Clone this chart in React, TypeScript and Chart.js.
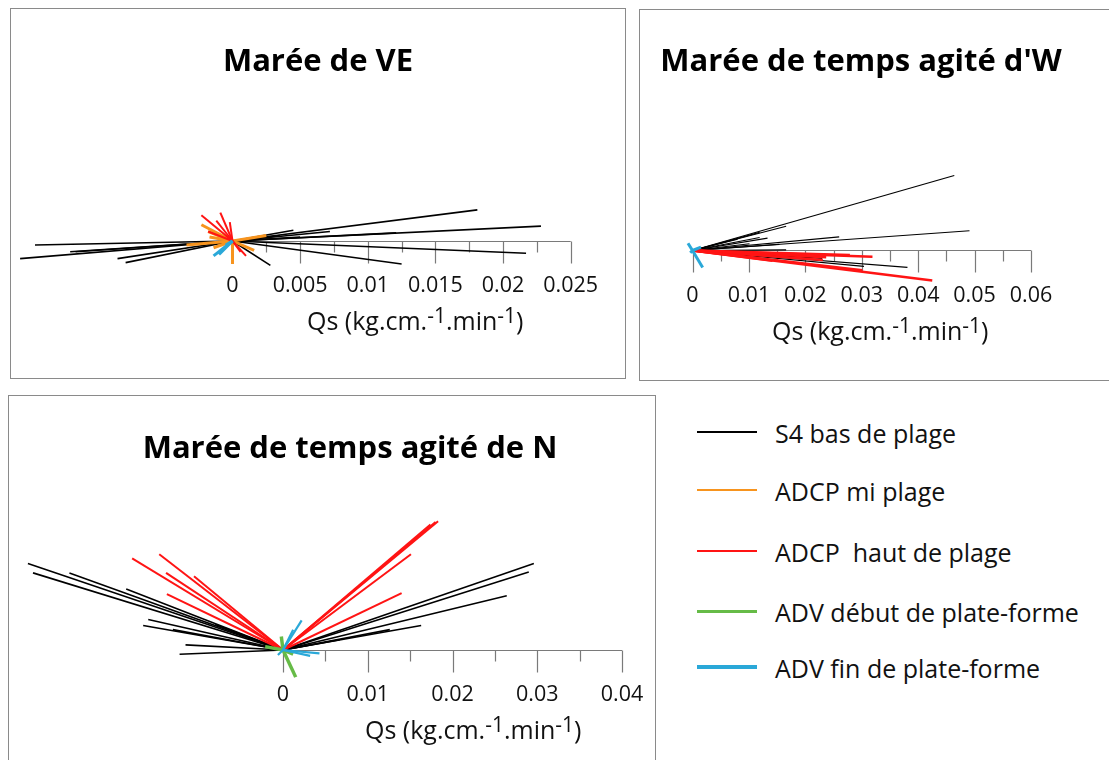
import React, { useEffect, useRef } from "react";
import { Chart, registerables } from "chart.js";
Chart.register(...registerables);

// ---------------- Data ----------------
const SERIES_NAMES = [
  "S4 bas de plage",
  "ADCP mi plage",
  "ADCP  haut de plage",
  "ADV début de plate-forme",
  "ADV fin de plate-forme",
];
const SERIES_COLORS = ["#000000", "#F7941E", "#FF1414", "#66BB47", "#2AA8D8"];

const TITLES = ["Marée de VE", "Marée de temps agité d'W", "Marée de temps agité de N"];

// Axis ticks
const veTicks = [0, 0.005, 0.01, 0.015, 0.02, 0.025];
const veTickLabels = ["0", "0.005", "0.01", "0.015", "0.02", "0.025"];
const veMinor = [0.0025, 0.0075, 0.0125, 0.0175, 0.0225];

const wTicks = [0, 0.01, 0.02, 0.03, 0.04, 0.05, 0.06];
const wTickLabels = ["0", "0.01", "0.02", "0.03", "0.04", "0.05", "0.06"];
const wMinor = [0.005, 0.015, 0.025, 0.035, 0.045, 0.055];

const nTicks = [0, 0.01, 0.02, 0.03, 0.04];
const nTickLabels = ["0", "0.01", "0.02", "0.03", "0.04"];
const nMinor = [0.005, 0.015, 0.025, 0.035];

// Vectors (Qs components, kg.cm-1.min-1) — Marée de VE
const veS4Dx = [0.0181, 0.0228, 0.0121, 0.0217, 0.0125, 0.0028, -0.0157, -0.0146, -0.012, -0.0116, -0.0085, -0.0079, 0.005, 0.0072, 0.0035, 0.0045];
const veS4Dy = [0.0023, 0.0011, 0.0006, -0.0009, -0.0017, -0.0018, -0.0013, -0.0003, -0.0008, -0.0008, -0.0013, -0.0016, 0.0003, 0.0007, 0.0004, 0.0008];
const veMiDx = [-0.0034, -0.0023, -0.0017, -0.0014, 0.0025, 0.0016, 0.0, -0.0018];
const veMiDy = [-0.0003, 0.0012, 0.0003, -0.0005, 0.0004, -0.0007, -0.0017, 0.0007];
const veHautDx = [-0.0023, -0.0009, -0.0002, -0.0018, 0.001, 0.0006, -0.0012];
const veHautDy = [0.0019, 0.0021, 0.0014, 0.0007, -0.0011, -0.0008, 0.0015];
const veDebutDx: number[] = [];
const veDebutDy: number[] = [];
const veFinDx = [-0.0014, -0.001, -0.0005];
const veFinDy = [-0.0011, -0.001, -0.0003];

// Marée de temps agité d'W
const wS4Dx = [0.0464, 0.0491, 0.026, 0.0166, 0.0133, 0.0119, 0.0166, 0.0381, 0.023, 0.0304, 0.0101, 0.0154, 0.0119, 0.008];
const wS4Dy = [0.0133, 0.0035, 0.0024, 0.0043, 0.0022, 0.0023, 0.0001, -0.003, -0.0014, -0.0028, 0.0012, 0.0011, 0.0032, 0.002];
const wMiDx: number[] = [];
const wMiDy: number[] = [];
const wHautDx = [0.0425, 0.0319, 0.0301, 0.0237, 0.0119, 0.0279, 0.0142, 0.0231];
const wHautDy = [-0.0053, -0.0011, -0.0035, -0.0012, -0.0006, -0.0008, -0.0018, -0.0017];
const wDebutDx: number[] = [];
const wDebutDy: number[] = [];
const wFinDx = [0.0018, -0.0008, 0.0015, -0.0004];
const wFinDy = [-0.003, 0.0013, 0.0006, -0.0004];

// Marée de temps agité de N
const nS4Dx = [-0.0301, -0.0295, -0.0252, -0.0185, -0.0159, -0.0165, -0.013, -0.0115, -0.0122, 0.0296, 0.029, 0.0264, 0.0163, 0.0126, 0.0067, -0.008];
const nS4Dy = [0.0102, 0.0091, 0.0091, 0.0072, 0.0036, 0.0029, 0.0024, 0.0006, -0.0005, 0.0102, 0.0092, 0.0064, 0.0029, 0.0024, 0.0012, 0.003];
const nMiDx: number[] = [];
const nMiDy: number[] = [];
const nHautDx = [-0.0178, -0.0146, -0.0138, -0.0105, -0.0137, 0.0183, 0.018, 0.0151, 0.014, 0.0174];
const nHautDy = [0.0108, 0.0113, 0.0091, 0.0087, 0.0066, 0.0152, 0.0151, 0.0113, 0.0067, 0.0148];
const nDebutDx = [0.0015, -0.0021, -0.0002, 0.0012];
const nDebutDy = [-0.0032, 0.0004, 0.0016, -0.0005];
const nFinDx = [0.0022, 0.0043, 0.0012, 0.0032, -0.0006];
const nFinDy = [0.0035, -0.0004, 0.0024, -0.0007, -0.0006];

// ---------------- Layout / style ----------------
type Panel = {
  title: string;
  box: { left: number; top: number; width: number; height: number };
  origin: { x: number; y: number };
  unitPx: number;
  ticks: number[];
  tickLabels: string[];
  minor: number[];
  titleX: number;
  titleBaseline: number;
  axisTitleLeft: number;
  dx: number[][];
  dy: number[][];
  widths: number[];
};

const AXIS_COLOR = "#7a7a7a";
const TEXT_COLOR = "#111111";
const FONT = "'Open Sans', 'Noto Sans', sans-serif";

const PANELS: Panel[] = [
  {
    title: TITLES[0],
    box: { left: 10, top: 8, width: 616, height: 371 },
    origin: { x: 232.5, y: 241 },
    unitPx: (570.7 - 232.5) / 0.025,
    ticks: veTicks,
    tickLabels: veTickLabels,
    minor: veMinor,
    titleX: 318,
    titleBaseline: 71,
    axisTitleLeft: 307,
    dx: [veS4Dx, veMiDx, veHautDx, veDebutDx, veFinDx],
    dy: [veS4Dy, veMiDy, veHautDy, veDebutDy, veFinDy],
    widths: [1.6, 3, 2, 3, 3],
  },
  {
    title: TITLES[1],
    box: { left: 639, top: 9, width: 476, height: 372 },
    origin: { x: 692.5, y: 250.5 },
    unitPx: (1031 - 692.5) / 0.06,
    ticks: wTicks,
    tickLabels: wTickLabels,
    minor: wMinor,
    titleX: 861,
    titleBaseline: 71,
    axisTitleLeft: 772,
    dx: [wS4Dx, wMiDx, wHautDx, wDebutDx, wFinDx],
    dy: [wS4Dy, wMiDy, wHautDy, wDebutDy, wFinDy],
    widths: [1.2, 2.5, 2.5, 3, 3],
  },
  {
    title: TITLES[2],
    box: { left: 8, top: 395, width: 648, height: 380 },
    origin: { x: 283, y: 650 },
    unitPx: (621.7 - 282.7) / 0.04,
    ticks: nTicks,
    tickLabels: nTickLabels,
    minor: nMinor,
    titleX: 350,
    titleBaseline: 458,
    axisTitleLeft: 365,
    dx: [nS4Dx, nMiDx, nHautDx, nDebutDx, nFinDx],
    dy: [nS4Dy, nMiDy, nHautDy, nDebutDy, nFinDy],
    widths: [1.6, 3, 2, 3.5, 2.2],
  },
];

const LEGEND_Y = [432, 490, 551, 611, 667];
const LEGEND_W = [1.5, 2.5, 2, 3, 3.5];

function drawAxisTitle(ctx: CanvasRenderingContext2D, left: number, baseline: number) {
  const parts: { t: string; sup: boolean }[] = [
    { t: "Qs (kg.cm.", sup: false },
    { t: "-1", sup: true },
    { t: ".min", sup: false },
    { t: "-1", sup: true },
    { t: ")", sup: false },
  ];
  let x = left;
  ctx.textAlign = "left";
  ctx.textBaseline = "alphabetic";
  for (const p of parts) {
    ctx.font = p.sup ? `21px ${FONT}` : `25px ${FONT}`;
    ctx.fillText(p.t, x, p.sup ? baseline - 7 : baseline);
    x += ctx.measureText(p.t).width;
  }
}

function VectorPanel({ p }: { p: Panel }) {
  const ref = useRef<HTMLCanvasElement>(null);
  const cx = p.box.left + 1;
  const cy = p.box.top + 1;
  const cw = p.box.width - 2;
  const ch = p.box.height - 2;

  useEffect(() => {
    const canvas = ref.current;
    if (!canvas) return;
    const k = p.unitPx;
    const xMin = -(p.origin.x - cx) / k;
    const xMax = (cx + cw - p.origin.x) / k;
    const yMax = (p.origin.y - cy) / k;
    const yMin = -(cy + ch - p.origin.y) / k;

    const datasets: any[] = [];
    p.dx.forEach((arr, si) => {
      arr.forEach((dx, i) => {
        datasets.push({
          label: SERIES_NAMES[si],
          data: [
            { x: 0, y: 0 },
            { x: dx, y: p.dy[si][i] },
          ],
          borderColor: SERIES_COLORS[si],
          backgroundColor: SERIES_COLORS[si],
          borderWidth: p.widths[si],
          borderCapStyle: "butt",
          showLine: true,
          pointRadius: 0,
          pointHoverRadius: 0,
          order: 10 - si,
        });
      });
    });

    const axisPlugin = {
      id: "vectorAxis",
      beforeDatasetsDraw(chart: any) {
        const ctx = chart.ctx as CanvasRenderingContext2D;
        const xs = chart.scales.x;
        const ys = chart.scales.y;
        const y0 = Math.round(ys.getPixelForValue(0)) + 0.5;
        ctx.save();
        ctx.strokeStyle = AXIS_COLOR;
        ctx.lineWidth = 1.2;
        ctx.beginPath();
        ctx.moveTo(xs.getPixelForValue(p.ticks[0]), y0);
        ctx.lineTo(xs.getPixelForValue(p.ticks[p.ticks.length - 1]), y0);
        for (const t of p.ticks) {
          const x = Math.round(xs.getPixelForValue(t)) + 0.5;
          ctx.moveTo(x, y0);
          ctx.lineTo(x, y0 + 22);
        }
        for (const t of p.minor) {
          const x = Math.round(xs.getPixelForValue(t)) + 0.5;
          ctx.moveTo(x, y0);
          ctx.lineTo(x, y0 + 11);
        }
        ctx.stroke();
        ctx.restore();
      },
      afterDraw(chart: any) {
        const ctx = chart.ctx as CanvasRenderingContext2D;
        const xs = chart.scales.x;
        const ys = chart.scales.y;
        const y0 = ys.getPixelForValue(0);
        ctx.save();
        ctx.fillStyle = TEXT_COLOR;
        ctx.font = `21.5px ${FONT}`;
        ctx.textAlign = "center";
        ctx.textBaseline = "alphabetic";
        p.ticks.forEach((t, i) => {
          ctx.fillText(p.tickLabels[i], xs.getPixelForValue(t), y0 + 51);
        });
        drawAxisTitle(ctx, p.axisTitleLeft - cx, y0 + 89);
        ctx.fillStyle = "#000";
        ctx.font = `bold 31px ${FONT}`;
        ctx.textAlign = "center";
        ctx.fillText(p.title, p.titleX - cx, p.titleBaseline - cy);
        ctx.restore();
      },
    };

    const chart = new Chart(canvas, {
      type: "scatter",
      data: { datasets },
      options: {
        responsive: false,
        maintainAspectRatio: false,
        animation: false,
        events: [],
        layout: { padding: 0 },
        scales: {
          x: { type: "linear", display: false, min: xMin, max: xMax, bounds: "data" },
          y: { type: "linear", display: false, min: yMin, max: yMax, bounds: "data" },
        },
        plugins: {
          legend: { display: false },
          tooltip: { enabled: false },
          title: { display: false },
        },
      } as any,
      plugins: [axisPlugin as any],
    });
    return () => chart.destroy();
  }, [p]);

  return (
    <div
      style={{
        position: "absolute",
        left: p.box.left,
        top: p.box.top,
        width: p.box.width,
        height: p.box.height,
        border: "1px solid #8a8a8a",
        boxSizing: "border-box",
        background: "#fff",
      }}
    >
      <canvas ref={ref} width={cw} height={ch} style={{ display: "block", width: cw, height: ch }} />
    </div>
  );
}

export default function App() {
  return (
    <div
      style={{
        position: "fixed",
        left: 0,
        top: 0,
        width: 1109,
        height: 760,
        overflow: "hidden",
        background: "#fff",
      }}
    >
      {PANELS.map((p, i) => (
        <VectorPanel key={i} p={p} />
      ))}
      {SERIES_NAMES.map((name, i) => (
        <React.Fragment key={name}>
          <div
            style={{
              position: "absolute",
              left: 697,
              top: LEGEND_Y[i] - LEGEND_W[i] / 2,
              width: 60,
              height: LEGEND_W[i],
              background: SERIES_COLORS[i],
            }}
          />
          <div
            style={{
              position: "absolute",
              left: 775,
              top: LEGEND_Y[i] - 16,
              font: `25px ${FONT}`,
              lineHeight: "34px",
              whiteSpace: "pre",
              color: "#111",
            }}
          >
            {name}
          </div>
        </React.Fragment>
      ))}
    </div>
  );
}
